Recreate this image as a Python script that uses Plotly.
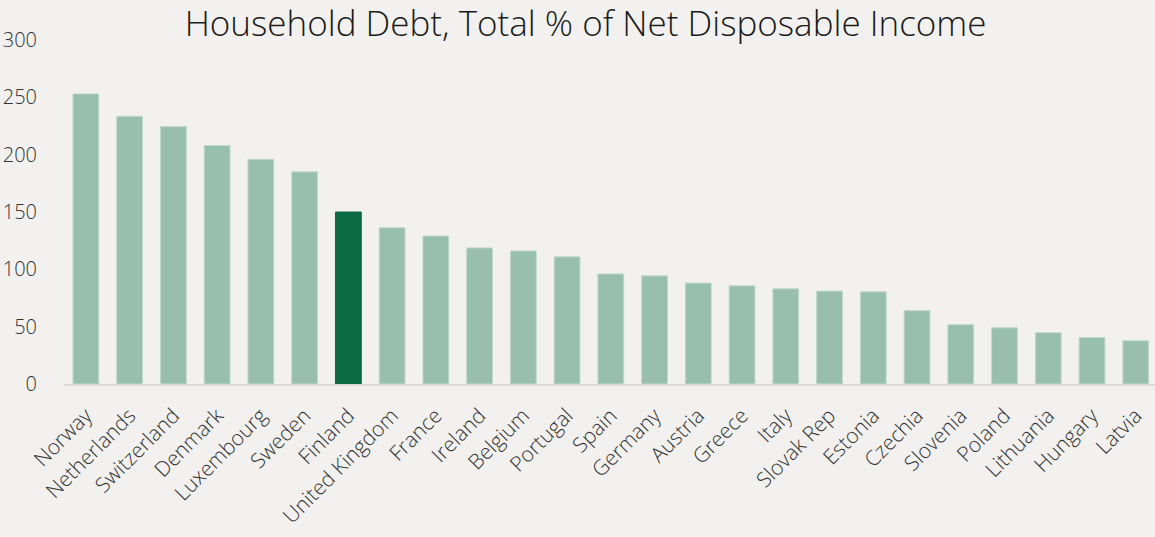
import plotly.graph_objects as go

countries = ["Norway", "Netherlands", "Switzerland", "Denmark", "Luxembourg", "Sweden",
             "Finland", "United Kingdom", "France", "Ireland", "Belgium", "Portugal",
             "Spain", "Germany", "Austria", "Greece", "Italy", "Slovak Rep", "Estonia",
             "Czechia", "Slovenia", "Poland", "Lithuania", "Hungary", "Latvia"]
debt = [253, 233.5, 224.5, 208, 196, 185, 150, 136.3, 129.1, 118.7, 116, 110.9,
        96, 94.3, 88, 85.6, 83, 81, 80.4, 64, 51.7, 49, 44.8, 40.5, 37.7]
highlight = "Finland"
y_ticks = [0, 50, 100, 150, 200, 250, 300]

base_col = "#98BEAE"
hi_col = "#0B6A41"
colors = [hi_col if c == highlight else base_col for c in countries]
line_cols = ["#0B6A41" if c == highlight else "#C2D8CE" for c in countries]

fig = go.Figure(go.Bar(
    x=countries, y=debt,
    marker=dict(color=colors, line=dict(color=line_cols, width=1)),
    width=0.59,
))

fig.update_layout(
    width=1155, height=537,
    paper_bgcolor="#F2F1EF", plot_bgcolor="#F2F1EF",
    margin=dict(l=64, r=0, t=40, b=153),
    showlegend=False,
    title=dict(text="Household Debt, Total % of Net Disposable Income",
               x=0.507, xanchor="center", y=1 - 24 / 537, yanchor="middle",
               font=dict(family="Open Sans", size=35, color="#1a1a1a", weight=300)),
    font=dict(family="Open Sans", color="#404040"),
)
fig.update_xaxes(range=[-0.5, 24.44], tickangle=-45, showgrid=False,
                 showline=True, linecolor="#D9D9D9", linewidth=2,
                 tickfont=dict(family="Open Sans", size=21, color="#333333", weight=300),
                 ticks="", ticklabelstandoff=9, fixedrange=True, automargin=False)
fig.update_yaxes(range=[0, 300], tickvals=y_ticks, showgrid=False, zeroline=False,
                 tickfont=dict(family="Open Sans", size=20, color="#333333", weight=300),
                 ticks="", ticklabelstandoff=26, fixedrange=True, automargin=False)

fig.write_html("out.html")
